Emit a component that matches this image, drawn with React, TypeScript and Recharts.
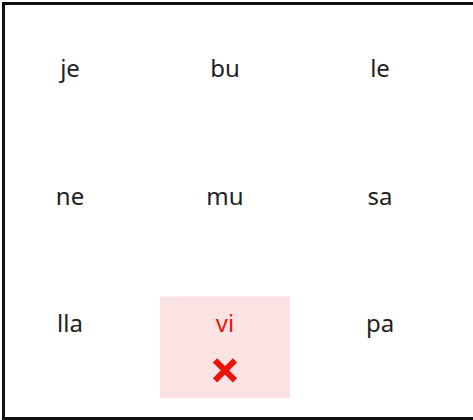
import React from 'react';
import { ScatterChart, Scatter, XAxis, YAxis, ReferenceArea } from 'recharts';

const syllables = ['je', 'bu', 'le', 'ne', 'mu', 'sa', 'lla', 'vi', 'pa'];
const columns = [0, 1, 2];
const rows = [0, 1, 2];
const wrongCells = [7];

const cells = syllables.map((text, i) => ({
  col: columns[i % 3],
  row: rows[Math.floor(i / 3)],
  text,
  wrong: wrongCells.includes(i),
}));

const marks = cells.filter(c => c.wrong);

const SyllableLabel = (props: any) => {
  const { cx, cy, payload } = props;
  return (
    <text
      x={cx}
      y={cy - 25}
      textAnchor="middle"
      dominantBaseline="central"
      fontSize={24}
      fontFamily="'Noto Sans', sans-serif"
      fill={payload.wrong ? '#e8140c' : '#222'}
    >
      {payload.text}
    </text>
  );
};

const CrossMark = (props: any) => {
  const { cx, cy } = props;
  const y = cy + 23;
  const d = 10;
  return (
    <g stroke="#e8140c" strokeWidth={6}>
      <line x1={cx - d} y1={y - d} x2={cx + d} y2={y + d} />
      <line x1={cx - d} y1={y + d} x2={cx + d} y2={y - d} />
    </g>
  );
};

const App: React.FC = () => {
  return (
    <div style={{ position: 'absolute', left: 0, top: 0, width: 473, height: 420, background: '#fff' }}>
      <ScatterChart width={473} height={420} margin={{ top: 29, right: 0, bottom: 9, left: 8 }}>
        <XAxis type="number" dataKey="col" domain={[-0.4, 2.6]} hide />
        <YAxis type="number" dataKey="row" domain={[-0.5, 2.5]} reversed hide />
        <ReferenceArea x1={0.58} x2={1.42} y1={1.6} y2={2.4} fill="#fbe3e4" fillOpacity={1} stroke="none" />
        <Scatter data={cells} shape={<SyllableLabel />} isAnimationActive={false} />
        <Scatter data={marks} shape={<CrossMark />} isAnimationActive={false} />
      </ScatterChart>
      <div
        style={{
          position: 'absolute',
          left: 2,
          top: 2,
          width: 471,
          height: 418,
          boxSizing: 'border-box',
          borderLeft: '3px solid #111',
          borderTop: '3px solid #111',
          borderBottom: '3px solid #111',
          pointerEvents: 'none',
        }}
      />
    </div>
  );
};

export default App;
